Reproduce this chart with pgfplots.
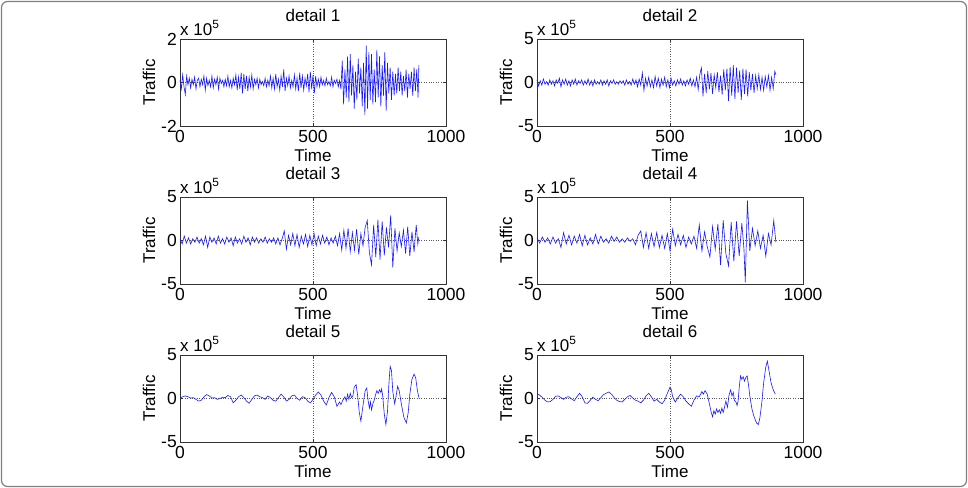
\documentclass[border=0pt]{standalone}
\usepackage{fontspec}
\setmainfont{Liberation Sans}
\usepackage{pgfplots}
\pgfplotsset{compat=1.18}
\newcommand\ff{\fontsize{17bp}{19bp}\selectfont}
\newcommand\ft{\fontsize{17.5bp}{19bp}\selectfont}
\pgfplotsset{
  detail/.style={
    scale only axis, width=266bp, height=87bp, anchor=north west,
    xmin=0, xmax=1000, xtick={0,500,1000}, xticklabels={0,500,1000},
    grid=major, major grid style={dotted, black!65, line width=0.5bp},
    tick align=inside, major tick length=3bp,
    axis line style={black!80, line width=0.6bp},
    every tick/.style={black!80, line width=0.6bp},
    xticklabel pos=lower, yticklabel pos=left,
    xticklabel style={font=\ft, inner sep=0pt, anchor=north, yshift=-4bp},
    yticklabel style={font=\ft, inner sep=0pt, anchor=east, xshift=-3bp},
    xlabel=Time, ylabel=Traffic,
    xlabel style={font=\ff, inner sep=0pt, at={(axis description cs:0.5,0)}, anchor=north, yshift=-23bp},
    ylabel style={font=\ff, inner sep=0pt, at={(axis description cs:-0.1165,0.5)}, anchor=center},
    title style={font=\ff, inner sep=0pt, at={(axis description cs:0.5,1)}, anchor=base, yshift=12bp},
    clip=false,
  },
  sig/.style={blue!90!white, line width=0.6bp, mark=none},
}
\newcommand\xten{\node[anchor=base west, inner sep=0pt, font=\ff, yshift=4bp] at (rel axis cs:0,1) {x 10\textsuperscript{5}};}
\begin{document}
\begin{tikzpicture}
\useasboundingbox (0,0) rectangle (968bp,-488bp);
\draw[black!50, line width=1.2bp, rounded corners=6bp] (1.5bp,-1.5bp) rectangle (966.5bp,-486.5bp);

% detail 1
\begin{axis}[detail, at={(180bp,-39bp)}, ymin=-2, ymax=2, ytick={-2,0,2}, yticklabels={-2,0,2}, title={detail 1}]
\addplot[sig] coordinates {
(0,0.1)(5,-0.3)(10,0.35)(15,-0.2)(20,-0.55)(25,0.3)(30,-0.1)(35,0.2)(40,-0.25)(45,0.15)(50,-0.1)(55,0.25)(60,-0.3)(65,0.1)(70,0.2)(75,-0.2)(80,0.15)(85,-0.1)(90,0.3)(95,-0.35)
(100,0.2)(105,-0.15)(110,0.1)(115,-0.2)(120,0.3)(125,-0.25)(130,0.15)(135,-0.1)(140,0.25)(145,-0.3)(150,0.2)(155,-0.05)(160,0.1)(165,-0.2)(170,0.15)(175,-0.15)(180,0.3)(185,-0.2)(190,0.1)(195,-0.25)
(200,0.2)(205,-0.1)(210,0.35)(215,-0.35)(220,0.25)(225,-0.3)(230,0.45)(235,-0.5)(240,0.4)(245,-0.3)(250,0.3)(255,-0.4)(260,0.25)(265,-0.2)(270,0.35)(275,-0.3)(280,0.15)(285,-0.1)(290,0.2)(295,-0.25)
(300,0.15)(305,-0.1)(310,0.05)(315,-0.15)(320,0.2)(325,-0.2)(330,0.1)(335,-0.15)(340,0.3)(345,-0.25)(350,0.2)(355,-0.3)(360,0.4)(365,-0.2)(370,0.15)(375,-0.35)(380,0.3)(385,-0.2)(390,0.6)(395,-0.4)
(400,0.2)(405,-0.15)(410,0.3)(415,-0.25)(420,0.1)(425,-0.2)(430,0.35)(435,-0.3)(440,0.2)(445,-0.4)(450,0.45)(455,-0.25)(460,0.3)(465,-0.35)(470,0.2)(475,-0.15)(480,0.4)(485,-0.45)(490,0.5)(495,-0.3)
(500,0.35)(505,-0.5)(510,0.3)(515,-0.2)(520,0.15)(525,-0.2)(530,0.25)(535,-0.1)(540,0.1)(545,-0.15)(550,0.2)(555,-0.1)(560,0.05)(565,-0.15)(570,0.25)(575,-0.2)(580,0.1)(585,-0.05)(590,0.15)(595,-0.2)
(600,0.1)(605,-0.3)(610,1.0)(615,-1.0)(620,0.6)(625,-0.7)(630,1.2)(635,-0.9)(640,1.3)(645,-0.6)(650,0.8)(655,-1.2)(660,0.5)(665,-0.8)(670,1.1)(675,-0.5)(680,0.7)(685,-1.1)(690,0.9)(695,-1.5)
(700,1.7)(705,-1.2)(710,1.4)(715,-0.8)(720,1.3)(725,-1.0)(730,0.6)(735,-0.9)(740,1.5)(745,-0.7)(750,1.2)(755,-1.1)(760,0.8)(765,-0.6)(770,1.4)(775,-1.3)(780,0.9)(785,-0.5)(790,0.7)(795,-0.8)
(800,0.5)(805,-0.6)(810,0.4)(815,-0.5)(820,0.7)(825,-0.4)(830,0.5)(835,-0.6)(840,0.3)(845,-0.4)(850,0.6)(855,-0.7)(860,0.4)(865,-0.3)(870,0.5)(875,-0.6)(880,0.7)(885,-0.4)(890,0.6)(895,-0.7)(898,0.8)
};
\xten
\end{axis}

% detail 2
\begin{axis}[detail, at={(537bp,-39bp)}, ymin=-5, ymax=5, ytick={-5,0,5}, yticklabels={-5,0,5}, title={detail 2}]
\addplot[sig] coordinates {
(0,0.3)(6,-0.4)(12,0.2)(18,-0.3)(24,0.4)(30,-0.2)(36,0.1)(42,-0.3)(48,0.3)(54,-0.2)(60,0.2)(66,-0.4)(72,0.3)(78,-0.1)(84,0.5)(90,-0.5)(96,0.3)
(102,-0.2)(108,0.4)(114,-0.3)(120,0.2)(126,-0.4)(132,0.3)(138,-0.2)(144,0.4)(150,-0.3)(156,0.2)(162,-0.1)(168,0.3)(174,-0.3)(180,0.2)(186,-0.2)(192,0.4)(198,-0.3)
(204,0.2)(210,-0.4)(216,0.3)(222,-0.2)(228,0.1)(234,-0.2)(240,0.3)(246,-0.3)(252,0.2)(258,-0.2)(264,0.3)(270,-0.4)(276,0.2)(282,-0.1)(288,0.3)(294,-0.2)
(300,0.1)(306,-0.2)(312,0.2)(318,-0.1)(324,0.2)(330,-0.3)(336,0.3)(342,-0.2)(348,0.1)(354,-0.3)(360,0.4)(366,-0.2)(372,0.3)(378,-0.5)(384,0.4)(390,-0.3)(396,1.1)
(402,-0.9)(408,0.5)(414,-0.4)(420,0.6)(426,-0.5)(432,0.3)(438,-0.6)(444,0.7)(450,-0.4)(456,0.5)(462,-0.6)(468,0.4)(474,-0.3)(480,0.6)(486,-0.5)(492,0.3)(498,-0.6)
(504,0.5)(510,-0.3)(516,0.2)(522,-0.4)(528,0.3)(534,-0.2)(540,0.4)(546,-0.3)(552,0.2)(558,-0.4)(564,0.3)(570,-0.2)(576,0.5)(582,-0.4)(588,0.3)(594,-0.5)
(600,0.6)(606,-0.8)(612,0.9)(618,1.7)(624,-1.6)(630,1.0)(636,-1.2)(642,1.3)(648,-0.8)(654,1.1)(660,-1.3)(666,0.9)(672,-0.6)(678,1.2)(684,-1.1)(690,0.8)(696,-1.4)
(702,1.5)(708,-0.9)(714,1.6)(720,-2.1)(726,1.8)(732,-1.5)(738,2.0)(744,-1.9)(750,1.7)(756,-1.2)(762,1.4)(768,-2.0)(774,1.6)(780,-1.3)(786,1.5)(792,-1.6)(798,1.2)
(804,-0.9)(810,1.0)(816,-1.2)(822,0.8)(828,-0.7)(834,0.9)(840,-0.8)(846,0.6)(852,-0.9)(858,0.7)(864,-0.5)(870,0.8)(876,-0.9)(882,0.6)(888,-0.7)(894,1.3)(898,0.9)
};
\xten
\end{axis}

% detail 3
\begin{axis}[detail, at={(180bp,-197bp)}, ymin=-5, ymax=5, ytick={-5,0,5}, yticklabels={-5,0,5}, title={detail 3}]
\addplot[sig] coordinates {
(0,0.2)(8,-0.4)(16,0.5)(24,-0.3)(32,0.3)(40,-0.4)(48,0.2)(56,-0.2)(64,0.4)(72,-0.3)(80,0.2)(88,-0.5)(96,0.5)
(104,-0.8)(112,0.4)(120,-0.2)(128,0.3)(136,-0.4)(144,0.5)(152,-0.3)(160,0.2)(168,-0.4)(176,0.4)(184,-0.2)(192,0.3)
(200,-0.6)(208,0.4)(216,-0.3)(224,0.2)(232,-0.4)(240,0.5)(248,-0.2)(256,0.3)(264,-0.5)(272,0.4)(280,-0.2)(288,0.3)(296,-0.3)
(304,0.2)(312,-0.2)(320,0.4)(328,-0.3)(336,0.2)(344,-0.2)(352,0.3)(360,-0.4)(368,0.3)(376,-0.5)(384,0.2)(392,1.1)
(400,-1.0)(408,0.6)(416,-0.5)(424,0.8)(432,-0.6)(440,0.7)(448,-0.8)(456,0.5)(464,-0.4)(472,0.7)(480,-0.7)(488,0.6)(496,-0.5)
(504,0.8)(512,-0.6)(520,0.5)(528,-0.4)(536,0.6)(544,-0.3)(552,0.4)(560,-0.5)(568,0.3)(576,-0.3)(584,0.5)(592,-0.6)
(600,0.8)(608,-1.1)(616,1.2)(624,-0.9)(632,1.4)(640,-1.3)(648,0.9)(656,-1.1)(664,1.3)(672,-1.6)(680,0.8)(688,-0.6)(696,1.5)
(704,2.3)(712,-1.4)(720,-2.8)(728,1.8)(736,-1.9)(744,2.4)(752,-2.2)(760,2.2)(768,-1.7)(776,1.5)(784,-0.8)(792,2.9)
(800,-3.1)(808,1.4)(816,-1.2)(824,0.9)(832,-0.7)(840,1.2)(848,-1.5)(856,1.6)(864,-1.8)(872,1.0)(880,-1.3)(888,1.8)(894,-0.4)(898,0.4)
};
\xten
\end{axis}

% detail 4
\begin{axis}[detail, at={(537bp,-197bp)}, ymin=-5, ymax=5, ytick={-5,0,5}, yticklabels={-5,0,5}, title={detail 4}]
\addplot[sig] coordinates {
(0,0.3)(10,-0.3)(20,0.4)(30,-0.2)(40,0.3)(50,-0.4)(60,0.4)(70,-0.3)(80,0.2)(90,-0.8)
(100,0.9)(110,-0.4)(120,0.6)(130,-0.5)(140,0.5)(150,-0.3)(160,0.7)(170,-0.6)(180,0.6)(190,-0.5)
(200,0.3)(210,-0.4)(220,0.7)(230,-0.4)(240,0.5)(250,-0.2)(260,0.2)(270,-0.3)(280,0.5)(290,-0.1)
(300,0.4)(310,-0.2)(320,0.2)(330,-0.2)(340,0.3)(350,-0.1)(360,0.2)(370,-0.5)(380,0.6)(390,1.1)
(400,-0.8)(410,0.9)(420,-0.9)(430,0.8)(440,-0.7)(450,0.9)(460,-0.8)(470,0.6)(480,-0.9)(490,0.8)
(500,-1.2)(510,1.3)(520,-0.6)(530,0.7)(540,-0.5)(550,0.6)(560,-0.8)(570,0.4)(580,-0.4)(590,0.5)
(600,-0.9)(610,1.8)(620,-1.2)(630,1.0)(640,-0.7)(650,-1.9)(660,1.6)(670,-1.0)(680,1.9)(690,-2.8)
(700,2.3)(710,-1.5)(720,-2.9)(730,2.1)(740,-2.4)(750,2.2)(760,-1.8)(770,2.0)(778,-1.0)(783,-4.8)(791,4.6)
(800,-1.2)(810,1.4)(820,-0.6)(830,1.1)(840,-0.9)(850,0.6)(860,-1.8)(870,0.8)(880,-0.5)(890,2.3)(898,-0.2)
};
\xten
\end{axis}

% detail 5
\begin{axis}[detail, at={(180bp,-355bp)}, ymin=-5, ymax=5, ytick={-5,0,5}, yticklabels={-5,0,5}, title={detail 5}]
\addplot[sig] coordinates {
(0,0.05)(10,0.2)(20,0.3)(30,0.2)(40,0.05)(50,0.1)(60,-0.1)(70,-0.3)(80,-0.2)(90,0.2)
(100,0.45)(110,0.3)(120,0.05)(130,0.1)(140,-0.1)(150,0.0)(160,0.15)(170,0.1)(180,0.35)(190,0.2)
(200,-0.5)(210,-0.2)(220,0.2)(230,0.4)(240,0.1)(250,-0.3)(260,-0.55)(270,-0.1)(280,0.3)(290,0.4)
(300,0.2)(310,0.1)(320,-0.1)(330,0.3)(340,0.1)(350,-0.2)(360,-0.3)(370,0.1)(380,0.5)(390,0.2)
(400,-0.3)(410,-0.1)(420,0.3)(430,0.4)(440,0.0)(450,-0.2)(460,0.2)(470,0.1)(480,-0.3)(490,-0.5)
(500,-0.1)(510,0.4)(520,0.75)(530,0.4)(540,-0.3)(550,-0.75)(560,0.1)(570,0.7)(580,0.2)(590,-0.9)
(600,-0.4)(605,-0.7)(612,-0.2)(620,0.2)(625,-0.3)(630,0.5)(635,-0.1)(640,0.6)(645,0.1)(650,0.3)(655,1.3)(662,1.6)(668,0.3)(674,-1.6)(680,-2.6)(688,-0.8)(696,0.9)
(702,1.2)(707,-0.2)(712,-1.1)(716,-0.4)(720,-1.3)(725,-0.6)(730,-0.2)(735,0.4)(740,0.9)(745,0.6)(750,1.0)(755,0.7)(758,1.1)(762,0.3)(768,-1.8)(774,-3.0)(780,-1.5)(785,1.5)(790,3.7)(795,3.2)
(800,0.8)(807,-0.6)(812,0.2)(818,1.4)(824,0.9)(832,-0.6)(842,-2.2)(851,-2.8)(858,-1.6)(864,0.5)(872,2.2)(880,2.8)(886,2.4)(892,1.0)(898,0.1)
};
\xten
\end{axis}

% detail 6
\begin{axis}[detail, at={(537bp,-355bp)}, ymin=-5, ymax=5, ytick={-5,0,5}, yticklabels={-5,0,5}, title={detail 6}]
\addplot[sig] coordinates {
(0,0.5)(10,0.4)(20,0.1)(30,-0.2)(40,-0.4)(50,-0.35)(60,-0.1)(70,0.25)(80,0.3)(90,0.1)
(100,-0.1)(110,0.15)(120,0.2)(130,-0.05)(140,-0.25)(150,0.2)(160,0.6)(170,0.2)(180,-0.5)(190,-0.55)
(200,-0.2)(210,0.15)(220,-0.1)(230,-0.25)(240,0.1)(250,0.45)(260,0.6)(270,0.75)(280,0.5)(290,0.1)
(300,-0.2)(310,-0.35)(320,-0.4)(330,-0.1)(340,0.2)(350,0.35)(360,0.05)(370,-0.2)(380,-0.3)(390,-0.5)
(400,-0.2)(410,0.3)(420,0.6)(430,0.2)(440,-0.3)(450,-0.1)(460,-0.4)(470,-0.6)(480,-0.2)(490,0.6)
(500,1.3)(505,1.0)(510,0.2)(520,-0.4)(530,0.1)(540,0.5)(550,0.2)(560,-0.3)(570,-0.6)(580,-0.9)(590,-0.2)
(600,0.3)(610,0.2)(620,0.8)(625,0.5)(632,0.9)(640,0.5)(648,-0.6)(655,-1.6)(660,-2.1)(665,-1.4)(670,-1.8)(675,-1.2)(680,-1.6)(685,-1.3)(690,-1.7)(695,-1.1)
(700,-1.6)(705,-1.0)(710,-0.3)(716,-1.0)(722,0.4)(728,1.0)(733,0.3)(738,0.7)(742,-0.2)(748,-0.4)(752,-0.8)(756,-0.3)(760,1.2)(765,2.6)(770,2.2)(775,2.5)(780,2.0)(785,2.4)(790,2.6)(795,1.6)
(800,0.3)(808,-1.2)(815,-2.0)(825,-2.8)(832,-3.0)(838,-2.2)(845,-0.5)(852,1.8)(860,3.6)(866,4.3)(872,3.2)(880,1.8)(888,1.0)(896,0.5)
};
\xten
\end{axis}
\end{tikzpicture}
\end{document}
